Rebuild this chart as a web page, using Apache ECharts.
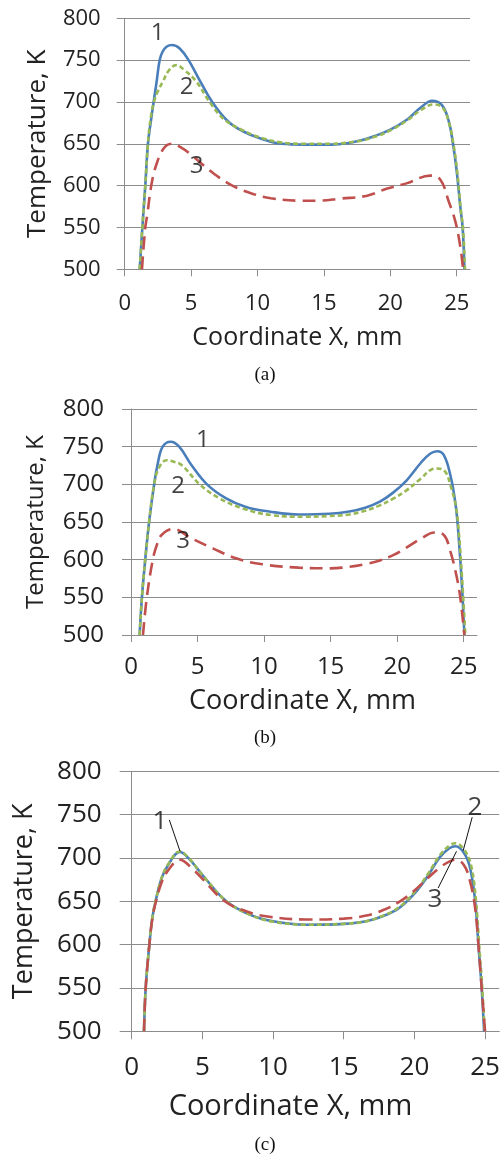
<!DOCTYPE html>
<html>
<head>
<meta charset="utf-8">
<script src="https://cdn.jsdelivr.net/npm/echarts@6/dist/echarts.min.js"></script>
<style>
html,body{margin:0;padding:0;background:#fff;}
#main{width:503px;height:1155px;}
</style>
</head>
<body>
<div id="main"></div>
<script>
// ---------- DATA ----------
const xTicks = [0, 5, 10, 15, 20, 25];
const panelCaptions = ['(a)', '(b)', '(c)'];
const curveNames = ['1', '2', '3'];

// Panel (a)
const aX1 = [1.13, 1.33, 1.55, 1.75, 1.97, 2.18, 2.41, 2.63, 2.85, 3.15, 3.56, 4.14, 4.81, 5.71, 6.59, 7.77, 8.9, 10.28, 11.8, 13.5, 15.5, 17.5, 18.76, 20, 21.27, 22.27, 23.15, 23.9, 24.4, 24.72, 25.0, 25.28, 25.45, 25.58];
const aT1 = [500, 550, 600, 650, 677, 700, 725, 750, 760, 766, 768, 764, 750, 724, 700, 677, 665, 656, 650, 649, 649, 653, 659, 667, 679, 693, 701.5, 696, 677, 650, 617, 573, 549, 500];
const aX2 = [1.13, 1.33, 1.55, 1.75, 1.95, 2.2, 2.5, 2.88, 3.3, 3.88, 4.5, 5.39, 6.39, 7.5, 8.9, 10.3, 11.8, 13.5, 15.5, 17.5, 18.76, 20, 21.27, 22.27, 23.27, 23.95, 24.4, 24.75, 25.05, 25.3, 25.48, 25.62];
const aT2 = [500, 550, 600, 650, 680, 700, 713, 724.5, 737, 744, 738, 724.5, 700, 679, 666, 657, 651.5, 650, 650, 653, 658, 666, 678, 690, 697, 693, 676, 650, 615, 572, 548, 500];
const aX3 = [1.3, 1.55, 1.7, 2.0, 2.38, 2.96, 3.56, 4.2, 5.0, 6.5, 8.0, 9.5, 11.0, 13.3, 14.5, 16.25, 18.26, 19.76, 21.27, 23.0, 23.77, 24.4, 24.9, 25.28, 25.48];
const aT3 = [500, 550, 565, 600, 625, 645, 650, 646, 637, 617, 601, 591, 585, 582, 582, 584.5, 588, 596.5, 603, 612, 607, 581, 557, 526, 500];

// Panel (b)
const bX1 = [0.65, 0.82, 1.07, 1.36, 1.74, 1.99, 2.38, 2.98, 3.62, 4.54, 5.71, 7.15, 8.64, 10.37, 12.6, 14.9, 16.4, 17.6, 18.7, 19.7, 20.7, 21.8, 22.5, 23.0, 23.5, 24.0, 24.4, 24.63, 24.88, 25.05];
const bT1 = [500, 550, 600, 650, 700, 725.7, 750, 756.6, 750, 725.7, 700, 681.4, 670, 664, 660, 661, 664, 669, 677, 689, 705, 729, 741, 744, 739, 712, 672, 628, 562, 500];
const bX2 = [0.65, 0.82, 1.07, 1.36, 1.74, 2.1, 2.68, 3.2, 3.8, 5.16, 6.65, 8.4, 10.6, 13.1, 14.9, 16.4, 17.6, 18.7, 19.7, 20.7, 21.8, 22.5, 23.0, 23.6, 24.0, 24.4, 24.63, 24.88, 25.12];
const bT2 = [500, 550, 600, 650, 700, 722, 732, 730, 725.7, 700, 681.4, 668, 659, 657, 658, 660, 665, 672, 681, 692, 708, 719, 721, 717, 699, 672, 637, 575, 500];
const bX3 = [0.9, 1.19, 1.64, 1.94, 2.3, 3.18, 4.54, 6.15, 7.9, 9.88, 12.6, 14.9, 16.4, 17.6, 18.7, 19.7, 20.7, 21.8, 22.8, 23.5, 24.0, 24.5, 24.75, 25.05];
const bT3 = [500, 550, 600, 619.5, 632.7, 640.7, 628.3, 615, 601.8, 593.8, 589.4, 588.5, 590.5, 594, 599, 606, 616, 628, 636, 633, 611, 575, 548.7, 500];

// Panel (c)
const cX1 = [0.87, 0.99, 1.25, 1.46, 1.69, 2.12, 2.59, 3.41, 4.0, 5.18, 6.7, 8.35, 10.0, 12.35, 15.0, 16.6, 17.8, 18.9, 19.9, 20.9, 21.8, 22.5, 22.9, 23.5, 23.94, 24.3, 24.53, 24.76, 24.93];
const cT1 = [500, 550, 600, 630.8, 650, 676.9, 692.3, 706.9, 700, 676.9, 650, 634.6, 626.9, 623, 624, 627, 633, 642, 657, 678, 701, 711.5, 713.5, 706, 688.5, 650, 600, 550, 500];
const cX2 = [0.87, 0.99, 1.25, 1.46, 1.69, 2.12, 2.59, 3.41, 4.0, 5.18, 6.7, 8.35, 10.0, 12.35, 15.0, 16.6, 17.8, 18.9, 19.9, 20.9, 21.8, 22.5, 22.9, 23.5, 24.0, 24.35, 24.58, 24.8, 24.97];
const cT2 = [500, 550, 600, 631, 650, 677, 693, 707.5, 700.5, 677, 650, 634.6, 626.5, 623, 624, 627, 633.5, 643, 658.5, 680, 703, 714.5, 717, 710, 692, 652, 600, 550, 500];
const cX3 = [0.87, 0.99, 1.25, 1.46, 1.69, 2.12, 2.59, 3.41, 4.24, 4.94, 6.59, 8.1, 9.5, 12.35, 15.0, 16.6, 17.8, 18.9, 19.9, 20.9, 21.8, 22.5, 22.9, 23.5, 23.94, 24.3, 24.53, 24.76, 25.0];
const cT3 = [500, 550, 600, 630, 648, 672, 686, 698, 688.5, 677, 650, 638.5, 632.7, 629, 630, 633.5, 640, 649, 661, 676, 689, 696, 698, 692, 673, 642, 600, 550, 500];

// Curve-number annotations (label, x, T)
const aNotes = [['1', 2.48, 782], ['2', 4.66, 718], ['3', 5.41, 623]];
const bNotes = [['1', 5.4, 759], ['2', 3.54, 697], ['3', 3.92, 624]];
const cNotes = [['1', 2.0, 742], ['2', 24.28, 757.6], ['3', 21.45, 651.8]];
// Leader lines in panel (c): [x0, T0, x1, T1]
const cLeaders = [[2.66, 744, 3.42, 707.7], [24.09, 747, 23.45, 708.4], [21.68, 665.3, 22.98, 707.7]];

// ---------- BUILD ----------
const FONT = '"Open Sans", "Noto Sans", sans-serif';
const GRID_COLOR = '#8c8c8c';
const TEXT_COLOR = '#222';
const colors = ['#4a7ebb', '#98b954', '#c0504d'];
const dashes = ['solid', [5, 3], [13, 7]];

const panels = [
  {grid: {left: 124.7, top: 18.3, width: 345.3, height: 251}, lab: 22, xName: 25, yName: 26, note: 24,
   yTick: 8, xTick: 7, yMargin: 24, xMargin: 23, xGap: 56, yGap: 74, xNamePad: 0,
   curves: [[aX1, aT1], [aX2, aT2], [aX3, aT3]], notes: aNotes, leaders: []},
  {grid: {left: 131, top: 409, width: 346, height: 226}, lab: 24, xName: 27, yName: 24, note: 24,
   yTick: 9, xTick: 7, yMargin: 27, xMargin: 20, xGap: 53, yGap: 83, xNamePad: 3,
   curves: [[bX1, bT1], [bX2, bT2], [bX3, bT3]], notes: bNotes, leaders: []},
  {grid: {left: 131.7, top: 771.3, width: 367.5, height: 260}, lab: 26, xName: 29, yName: 27, note: 26,
   yTick: 12, xTick: 8, yMargin: 30, xMargin: 23, xGap: 61, yGap: 94, xNamePad: 50,
   curves: [[cX1, cT1], [cX2, cT2], [cX3, cT3]], notes: cNotes, leaders: cLeaders}
];
const captionY = [375, 738, 1145];

const option = {
  animation: false,
  backgroundColor: '#fff',
  grid: [], xAxis: [], yAxis: [], series: [],
  graphic: []
};

panels.forEach((p, i) => {
  option.grid.push(Object.assign({outerBoundsMode: 'none', containLabel: false}, p.grid));
  option.xAxis.push({
    type: 'value', gridIndex: i, min: 0, max: 26,
    name: 'Coordinate X, mm', nameLocation: 'middle', nameGap: p.xGap,
    nameTextStyle: {fontFamily: FONT, fontSize: p.xName, color: TEXT_COLOR, padding: [0, p.xNamePad, 0, 0]},
    axisLine: {show: true, lineStyle: {color: GRID_COLOR, width: 1}},
    axisTick: {show: true, inside: false, length: p.xTick, customValues: xTicks, lineStyle: {color: GRID_COLOR}},
    axisLabel: {show: true, customValues: xTicks, margin: p.xMargin, fontFamily: FONT, fontSize: p.lab, color: TEXT_COLOR},
    splitLine: {show: false}
  });
  option.yAxis.push({
    type: 'value', gridIndex: i, min: 500, max: 800, interval: 50,
    name: 'Temperature, K', nameLocation: 'middle', nameGap: p.yGap, nameRotate: 90,
    nameTextStyle: {fontFamily: FONT, fontSize: p.yName, color: TEXT_COLOR},
    axisLine: {show: true, lineStyle: {color: GRID_COLOR, width: 1}},
    axisTick: {show: true, inside: false, length: p.yTick, lineStyle: {color: GRID_COLOR}},
    axisLabel: {show: true, margin: p.yMargin, fontFamily: FONT, fontSize: p.lab, color: TEXT_COLOR},
    splitLine: {show: true, lineStyle: {color: GRID_COLOR, width: 1}}
  });
  p.curves.forEach((c, k) => {
    option.series.push({
      type: 'line', name: curveNames[k], xAxisIndex: i, yAxisIndex: i,
      data: c[0].map((x, j) => [x, c[1][j]]),
      smooth: 0.4, showSymbol: false, symbol: 'none',
      clip: true,
      lineStyle: {color: colors[k], width: 2.6, type: dashes[k], cap: 'butt'},
      z: 2 + k
    });
  });
  option.series.push({
    type: 'scatter', xAxisIndex: i, yAxisIndex: i, symbolSize: 0, silent: true, z: 10,
    data: p.notes.map(n => ({name: n[0], value: [n[1], n[2]]})),
    label: {show: true, position: 'inside', formatter: '{b}', fontFamily: FONT, fontSize: p.note, color: '#111'},
    markLine: p.leaders.length ? {
      silent: true, symbol: ['none', 'none'], label: {show: false},
      lineStyle: {color: '#111', width: 1, type: 'solid'},
      data: p.leaders.map(l => [{coord: [l[0], l[1]]}, {coord: [l[2], l[3]]}])
    } : undefined
  });
  option.graphic.push({
    type: 'text', x: 265, y: captionY[i],
    style: {text: panelCaptions[i], font: '19px "Liberation Serif", "DejaVu Serif", serif', fill: '#111',
            textAlign: 'center', textVerticalAlign: 'middle'}
  });
});

const chart = echarts.init(document.getElementById('main'), null, {renderer: 'canvas'});
chart.setOption(option);
</script>
</body>
</html>
